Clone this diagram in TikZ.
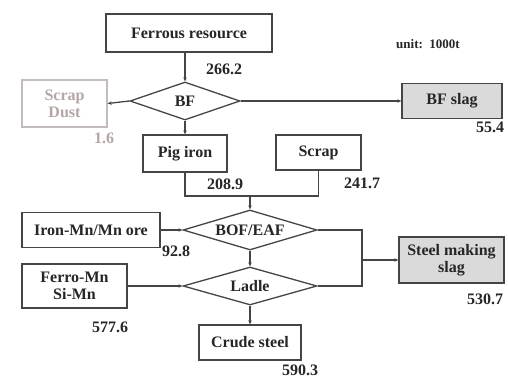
\documentclass[tikz,border=0pt]{standalone}
\usepackage{fontspec}
\setmainfont{Liberation Serif}
\usetikzlibrary{shapes.geometric,arrows.meta}
\definecolor{ink}{HTML}{262626}
\definecolor{edge}{HTML}{454545}
\definecolor{slagfill}{HTML}{DADADA}
\definecolor{faint}{HTML}{B4A6A6}
\definecolor{faintedge}{HTML}{C4BCBC}
\tikzset{
  txt/.style={font=\bfseries\fontsize{16}{17}\selectfont, text=ink},
  boxn/.style={draw=edge, line width=1.3pt, fill=white, inner sep=0pt, txt, align=center},
  slagbox/.style={boxn, fill=slagfill},
  dustbox/.style={draw=faintedge, line width=1.3pt, inner sep=0pt, align=center, font=\bfseries\fontsize{16}{17}\selectfont, text=faint},
  dia/.style={draw=edge, line width=1.3pt, diamond, inner sep=0pt, fill=white},
  num/.style={txt, inner sep=0pt},
  conn/.style={draw=edge, line width=1.3pt},
  arr/.style={conn, -{Stealth[length=4pt,width=3.5pt]}}
}
\begin{document}
\begin{tikzpicture}[x=1pt,y=-1pt]
\useasboundingbox[fill=white] (0,0) rectangle (508,379);
% boxes
\node[boxn, minimum width=166pt, minimum height=38pt] (fr) at (189,33) {Ferrous resource};
\node[dustbox, minimum width=85pt, minimum height=47pt] (dust) at (64.5,103.5) {Scrap\\Dust};
\node[slagbox, minimum width=100pt, minimum height=35pt] (bfs) at (452,101) {BF slag};
\node[boxn, minimum width=84pt, minimum height=37pt] (pig) at (185,153.5) {Pig iron};
\node[boxn, minimum width=85pt, minimum height=35pt] (scrap) at (318.5,152.5) {Scrap};
\node[boxn, minimum width=138pt, minimum height=35pt] (ore) at (91,230) {Iron-Mn/Mn ore};
\node[boxn, minimum width=105pt, minimum height=44pt] (fmn) at (74.5,286) {Ferro-Mn\\Si-Mn};
\node[slagbox, minimum width=105pt, minimum height=46pt] (sms) at (451.5,260) {Steel making\\slag};
\node[boxn, minimum width=102pt, minimum height=35pt] (crude) at (250,342.5) {Crude steel};
% diamonds
\node[dia, minimum width=110pt, minimum height=38pt, label={[txt]center:BF}] (bf) at (185,101) {};
\node[dia, minimum width=134pt, minimum height=40pt, label={[txt]center:BOF/EAF}] (bof) at (250,230) {};
\node[dia, minimum width=134pt, minimum height=38pt, label={[txt]center:Ladle}] (ladle) at (250,286) {};
% helper coordinates
\coordinate (mrg) at (250,196);
\coordinate (jr) at (362,260);
% connectors
\draw[arr] (bf.north |- fr.south) -- (bf.north);
\draw[arr] (bf.west) -- (dust.east);
\draw[arr] (bf.east) -- (bfs.west);
\draw[arr] (bf.south) -- (pig.north);
\draw[conn] (pig.south) |- (mrg) -| (scrap.south);
\draw[arr] (mrg) -- (bof.north);
\draw[arr] (ore.east) -- (bof.west);
\draw[arr] (bof.south) -- (ladle.north);
\draw[arr] (fmn.east) -- (ladle.west);
\draw[conn] (bof.east) -| (jr) |- (ladle.east);
\draw[arr] (jr) -- (sms.west);
\draw[arr] (ladle.south) -- (crude.north);
% numbers
\node[num] (n1) at (224,69) {266.2};
\node[num, text=faint] (n2) at (104,138) {1.6};
\node[num] (n3) at (490,127) {55.4};
\node[num] (n4) at (225,184) {208.9};
\node[num] (n5) at (362,183) {241.7};
\node[num] (n6) at (176,251) {92.8};
\node[num] (n7) at (485,299) {530.7};
\node[num] (n8) at (110,327) {577.6};
\node[num] (n9) at (300,370) {590.3};
\node[txt, font=\bfseries\fontsize{13}{15}\selectfont] (unit) at (428,44) {unit:\ \ 1000t};
\end{tikzpicture}
\end{document}
